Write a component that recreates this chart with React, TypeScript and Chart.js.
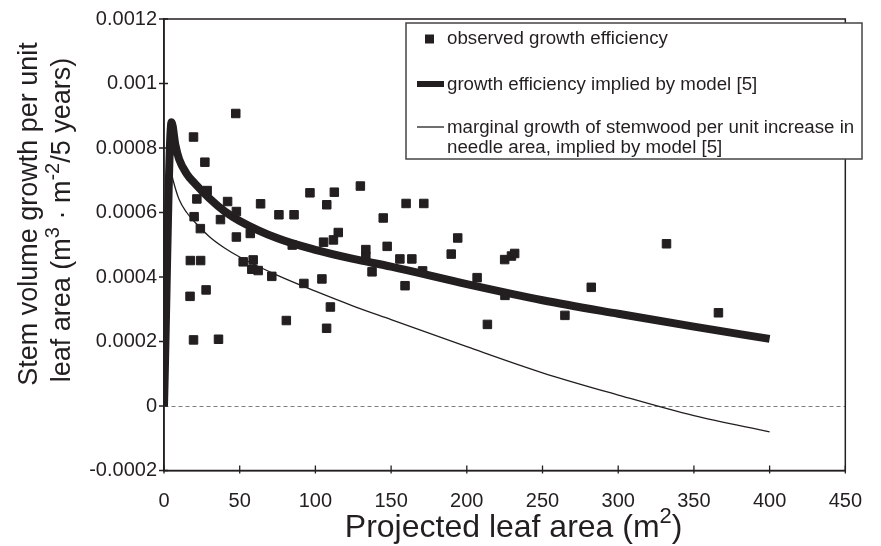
import React, { useEffect, useRef } from "react";
import { Chart, registerables } from "chart.js";

Chart.register(...registerables);

// ---------- data ----------
const observedX = [47.4, 19.5, 27.0, 28.5, 21.7, 42.0, 47.8, 63.8, 19.9, 37.3, 24.0, 47.8, 57.0, 75.9, 85.9, 96.4, 112.5, 107.5, 115.1, 111.9, 105.4, 84.7, 17.4, 24.2, 52.3, 58.9, 58.0, 62.2, 71.2, 92.4, 104.3, 27.8, 17.2, 109.9, 80.8, 107.4, 19.5, 36.0, 129.7, 159.9, 171.6, 144.8, 133.3, 133.3, 147.4, 194.0, 155.8, 163.7, 137.4, 189.7, 170.8, 159.2, 206.8, 225.0, 229.5, 231.6, 225.2, 213.6, 282.2, 264.8, 331.9, 366.2];
const observedY = [0.000907, 0.000834, 0.000756, 0.000668, 0.000642, 0.000634, 0.000603, 0.000627, 0.000587, 0.000578, 0.00055, 0.000524, 0.000535, 0.000593, 0.000593, 0.000661, 0.000663, 0.000624, 0.000538, 0.000515, 0.000508, 0.000499, 0.000451, 0.000451, 0.000447, 0.000453, 0.000424, 0.00042, 0.000402, 0.00038, 0.000394, 0.00036, 0.00034, 0.000307, 0.000265, 0.000241, 0.000205, 0.000207, 0.000682, 0.000628, 0.000628, 0.000583, 0.000485, 0.000463, 0.000495, 0.000521, 0.000456, 0.000456, 0.000416, 0.000471, 0.000419, 0.000373, 0.000398, 0.000454, 0.000465, 0.000473, 0.000343, 0.000253, 0.000368, 0.000281, 0.000503, 0.000289];

const modelX = [0, 5, 7.5, 10, 15, 20, 30, 40, 50, 75, 100, 125, 150, 200, 250, 300, 350, 400];
const modelY = [0, 0.00088, 0.00081, 0.000765, 0.00072, 0.000692, 0.000644, 0.000604, 0.000574, 0.00052, 0.000484, 0.000456, 0.000432, 0.000378, 0.000328, 0.000286, 0.000246, 0.000208];

const marginalX = [5, 6, 10, 15, 20, 30, 40, 50, 75, 100, 125, 150, 200, 250, 300, 350, 400];
const marginalY = [0.00072, 0.0007, 0.00064, 0.0006, 0.000572, 0.000525, 0.00049, 0.000462, 0.000405, 0.000356, 0.00031, 0.000268, 0.000184, 0.000103, 0.000034, -0.00003, -0.00008];

const xTicks = [0, 50, 100, 150, 200, 250, 300, 350, 400, 450];
const yTicks = [-0.0002, 0, 0.0002, 0.0004, 0.0006, 0.0008, 0.001, 0.0012];

const seriesLabels = [
  "observed growth efficiency",
  "growth efficiency implied by model [5]",
  "marginal growth of stemwood per unit increase in",
];
const marginalLabelLine2 = "needle area, implied by model [5]";

type Run = { text: string; sup?: boolean };
const yTitleLine1: Run[] = [{ text: "Stem volume growth per unit" }];
const yTitleLine2: Run[] = [
  { text: "leaf area (m" },
  { text: "3", sup: true },
  { text: " \u00B7 m" },
  { text: "-2", sup: true },
  { text: "/5 years)" },
];
const xTitle: Run[] = [
  { text: "Projected leaf area (m" },
  { text: "2", sup: true },
  { text: ")" },
];

// ---------- styling ----------
const INK = "#231f20";
const FAMILY = '"Liberation Sans", Arial, sans-serif';

function drawRuns(
  ctx: CanvasRenderingContext2D,
  runs: Run[],
  cx: number,
  cy: number,
  size: number,
  rotate: boolean,
  supScale = 0.68
) {
  ctx.save();
  ctx.translate(cx, cy);
  if (rotate) ctx.rotate(-Math.PI / 2);
  const base = `${size}px ${FAMILY}`;
  const supSize = Math.round(size * supScale);
  const sup = `${supSize}px ${FAMILY}`;
  const widths = runs.map((r) => {
    ctx.font = r.sup ? sup : base;
    return ctx.measureText(r.text).width;
  });
  const total = widths.reduce((a, b) => a + b, 0);
  let x = -total / 2;
  ctx.fillStyle = INK;
  ctx.textAlign = "left";
  ctx.textBaseline = "middle";
  runs.forEach((r, i) => {
    ctx.font = r.sup ? sup : base;
    ctx.fillText(r.text, x, r.sup ? -size * 0.36 : 0);
    x += widths[i];
  });
  ctx.restore();
}

const decorPlugin = {
  id: "decor",
  afterDraw(chart: any) {
    const ctx: CanvasRenderingContext2D = chart.ctx;
    const area = chart.chartArea;
    const xs = chart.scales.x;
    const ys = chart.scales.y;

    // frame
    ctx.save();
    ctx.strokeStyle = INK;
    ctx.lineWidth = 1.5;
    ctx.strokeRect(area.left, area.top, area.right - area.left, area.bottom - area.top);

    // tick marks crossing the axes
    ctx.lineWidth = 1.3;
    ctx.beginPath();
    yTicks.forEach((v) => {
      const py = ys.getPixelForValue(v);
      ctx.moveTo(area.left - 5, py);
      ctx.lineTo(area.left + 4, py);
    });
    xTicks.forEach((v) => {
      const px = xs.getPixelForValue(v);
      ctx.moveTo(px, area.bottom - 5);
      ctx.lineTo(px, area.bottom + 3);
    });
    ctx.stroke();
    ctx.restore();

    // legend box
    const L = 406, T = 23, R = 862, B = 159;
    ctx.save();
    ctx.fillStyle = "#ffffff";
    ctx.fillRect(L, T, R - L, B - T);
    ctx.strokeStyle = "#444444";
    ctx.lineWidth = 1.5;
    ctx.strokeRect(L, T, R - L, B - T);

    ctx.fillStyle = INK;
    ctx.fillRect(425, 34.5, 9, 9);

    ctx.strokeStyle = INK;
    ctx.lineWidth = 6;
    ctx.beginPath();
    ctx.moveTo(417, 84);
    ctx.lineTo(444, 84);
    ctx.stroke();

    ctx.lineWidth = 1.3;
    ctx.beginPath();
    ctx.moveTo(417, 127);
    ctx.lineTo(444, 127);
    ctx.stroke();

    ctx.font = `18.7px ${FAMILY}`;
    ctx.textAlign = "left";
    ctx.textBaseline = "middle";
    ctx.fillStyle = INK;
    ctx.fillText(seriesLabels[0], 447, 39);
    ctx.fillText(seriesLabels[1], 447, 85);
    ctx.fillText(seriesLabels[2], 447, 128);
    ctx.fillText(marginalLabelLine2, 447, 148);
    ctx.restore();

    // axis titles
    drawRuns(ctx, yTitleLine1, 30, 214, 27, true);
    drawRuns(ctx, yTitleLine2, 63, 220, 27, true, 0.74);
    drawRuns(ctx, xTitle, (area.left + area.right) / 2 + 9, 528, 32, false);
  },
};

export default function App() {
  const ref = useRef<HTMLCanvasElement | null>(null);

  useEffect(() => {
    if (!ref.current) return;
    const chart = new Chart(ref.current, {
      type: "scatter",
      data: {
        datasets: [
          {
            label: seriesLabels[0],
            data: observedX.map((x, i) => ({ x, y: observedY[i] })),
            showLine: false,
            pointStyle: "rect",
            pointRadius: 6,
            pointBackgroundColor: INK,
            pointBorderColor: INK,
            pointBorderWidth: 1,
          },
          {
            label: seriesLabels[1],
            data: modelX.map((x, i) => ({ x, y: modelY[i] })),
            showLine: true,
            borderColor: INK,
            borderWidth: 8,
            pointRadius: 0,
            cubicInterpolationMode: "monotone",
            borderJoinStyle: "miter",
            borderCapStyle: "butt",
          },
          {
            label: seriesLabels[2],
            data: marginalX.map((x, i) => ({ x, y: marginalY[i] })),
            showLine: true,
            borderColor: INK,
            borderWidth: 1.3,
            pointRadius: 0,
            cubicInterpolationMode: "monotone",
          },
        ],
      },
      options: {
        animation: false,
        responsive: false,
        devicePixelRatio: 1,
        layout: { padding: { left: 0, right: 17, top: 16.5, bottom: 0 } },
        plugins: {
          legend: { display: false },
          tooltip: { enabled: false },
        },
        scales: {
          x: {
            type: "linear",
            min: 0,
            max: 450,
            afterBuildTicks: (s: any) => {
              s.ticks = xTicks.map((v) => ({ value: v }));
            },
            afterFit: (s: any) => {
              s.height = 75.5;
            },
            grid: { display: false, drawTicks: false },
            border: { display: true, color: INK, width: 1.5 },
            ticks: {
              autoSkip: false,
              maxRotation: 0,
              padding: 19,
              color: INK,
              font: { family: FAMILY, size: 20 },
              callback: (v: any) => String(v),
            },
          },
          y: {
            type: "linear",
            min: -0.0002,
            max: 0.0012,
            afterBuildTicks: (s: any) => {
              s.ticks = yTicks.map((v) => ({ value: v }));
            },
            afterFit: (s: any) => {
              s.width = 164;
            },
            grid: {
              display: true,
              drawTicks: false,
              lineWidth: 1,
              color: (c: any) => (c.tick && c.tick.value === 0 ? "#7f7f7f" : "rgba(0,0,0,0)"),
            },
            border: { display: true, color: INK, width: 1.5, dash: [4, 3] },
            ticks: {
              autoSkip: false,
              padding: 7,
              color: INK,
              font: { family: FAMILY, size: 20 },
              callback: (v: any) => String(v),
            },
          },
        },
      },
      plugins: [decorPlugin],
    } as any);
    return () => chart.destroy();
  }, []);

  return (
    <div style={{ position: "fixed", left: 0, top: 0, width: 881, height: 546, background: "#fff" }}>
      <canvas ref={ref} width={881} height={546} style={{ display: "block" }} />
    </div>
  );
}
